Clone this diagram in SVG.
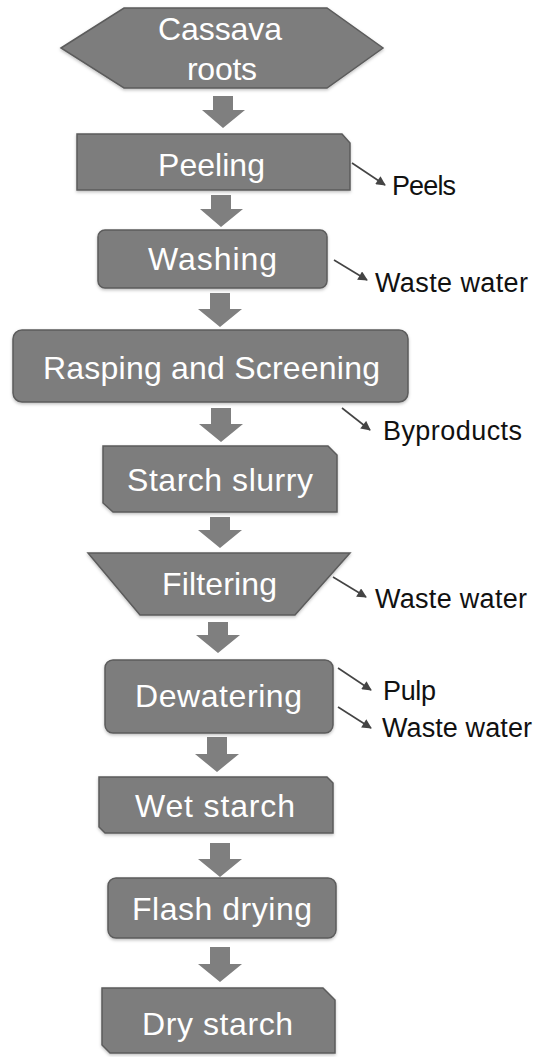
<svg xmlns="http://www.w3.org/2000/svg" width="543" height="1057" viewBox="0 0 543 1057">
<style>
.box{fill:#7d7d7d;stroke:#5c5c5c;stroke-width:1.5;filter:url(#sh)}
.lbl{font-family:"Liberation Sans",Arial,sans-serif;font-size:32px;fill:#ffffff;text-anchor:start}
.side{font-family:"Liberation Sans",Arial,sans-serif;font-size:27px;fill:#111111}
.blk{fill:#7f7f7f}
.out{stroke:#444444;stroke-width:1.6;fill:none;marker-end:url(#ah)}
</style>
<defs>
<marker id="ah" viewBox="0 0 10 10" refX="9" refY="5" markerWidth="6.5" markerHeight="6" orient="auto" markerUnits="strokeWidth"><path d="M0,0 L10,5 L0,10 Z" fill="#444444"/></marker>
<filter id="sh" x="-5%" y="-10%" width="110%" height="125%"><feDropShadow dx="0" dy="1.5" stdDeviation="1.5" flood-color="#000" flood-opacity="0.25"/></filter>
</defs>
<rect width="543" height="1057" fill="#ffffff"/>

<g id="connectors">
<path class="blk" d="M213,96 H233 V110 H245 L223,128 L202,110 H213 Z"/>
<path class="blk" d="M211,195 H231 V209 H243 L221,227 L200,209 H211 Z"/>
<path class="blk" d="M210,293 H230 V309 H242 L220,327 L198,309 H210 Z"/>
<path class="blk" d="M211,408 H231 V424 H243 L221,442 L199,424 H211 Z"/>
<path class="blk" d="M210,517 H230 V530 H242 L220,548 L198,530 H210 Z"/>
<path class="blk" d="M208,622 H228 V635 H240 L218,653 L196,635 H208 Z"/>
<path class="blk" d="M207,737 H227 V754 H239 L217,772 L195,754 H207 Z"/>
<path class="blk" d="M210,843 H230 V859 H242 L220,877 L198,859 H210 Z"/>
<path class="blk" d="M210,947 H230 V964 H242 L220,982 L198,964 H210 Z"/>
<line class="out" x1="352" y1="163" x2="385" y2="185"/>
<line class="out" x1="334" y1="260" x2="367" y2="280"/>
<line class="out" x1="342" y1="408" x2="370" y2="430"/>
<line class="out" x1="333" y1="577" x2="366" y2="597"/>
<line class="out" x1="338" y1="668" x2="371" y2="690"/>
<line class="out" x1="338" y1="707" x2="371" y2="728"/>
</g>

<g id="n-cassava"><polygon class="box" points="61,48 124,8 327,8 383,48 327,88 124,88"/>
<text class="lbl" x="158" y="40" textLength="124">Cassava</text>
<text class="lbl" x="187" y="80" textLength="70">roots</text></g>

<g id="n-peeling"><path class="box" d="M77,134 H342 L350,143 V190 H77 Z"/>
<text class="lbl" x="158" y="176" textLength="107">Peeling</text></g>

<g id="n-washing"><rect class="box" x="98" y="230" width="229" height="58" rx="7"/>
<text class="lbl" x="148" y="270" textLength="129">Washing</text></g>

<g id="n-rasping"><rect class="box" x="13" y="330" width="395" height="72" rx="9"/>
<text class="lbl" x="43" y="379" textLength="337">Rasping and Screening</text></g>

<g id="n-slurry"><path class="box" d="M103,446 H328 L337,455 V512 H113 L103,503 Z"/>
<text class="lbl" x="127" y="491" textLength="186">Starch slurry</text></g>

<g id="n-filtering"><polygon class="box" points="88,553 350,553 295,615 140,615"/>
<text class="lbl" x="162" y="595" textLength="115">Filtering</text></g>

<g id="n-dewatering"><rect class="box" x="105" y="660" width="228" height="73" rx="8"/>
<text class="lbl" x="135" y="707" textLength="167">Dewatering</text></g>

<g id="n-wet"><path class="box" d="M99,777 H327 L333,783 V833 H105 L99,827 Z"/>
<text class="lbl" x="135" y="817" textLength="160">Wet starch</text></g>

<g id="n-flash"><rect class="box" x="108" y="878" width="228" height="60" rx="8"/>
<text class="lbl" x="132" y="920" textLength="180">Flash drying</text></g>

<g id="n-dry"><path class="box" d="M102,988 H323 L335,1000 V1053 H110 L102,1045 Z"/>
<text class="lbl" x="142" y="1035" textLength="151">Dry starch</text></g>

<g id="outputs">
<text class="side" x="392" y="195" textLength="64">Peels</text>
<text class="side" x="375" y="292" textLength="153">Waste water</text>
<text class="side" x="383" y="440" textLength="139">Byproducts</text>
<text class="side" x="375" y="608" textLength="152">Waste water</text>
<text class="side" x="383" y="700" textLength="53">Pulp</text>
<text class="side" x="382" y="737" textLength="150">Waste water</text>
</g>
</svg>
